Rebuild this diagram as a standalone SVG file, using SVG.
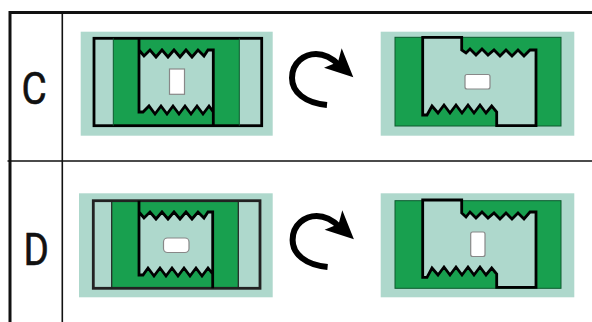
<svg xmlns="http://www.w3.org/2000/svg" width="592" height="322" viewBox="0 0 592 322">
<style>
.bg{fill:#aed8cc}
.gr{fill:#18a04f}
.lt{fill:#aed8cc}
.ol{fill:none;stroke:#000;stroke-width:2.8;stroke-linejoin:miter}
.ot{stroke:#0c5a2e;stroke-width:1}
.sl{fill:#fff;stroke:#888;stroke-width:1.2}
.ar{fill:none;stroke:#000;stroke-width:6}
.hd{fill:#000}
.tb{stroke:#111;fill:none}
.lb{font-family:Roboto,"Liberation Sans",sans-serif;font-size:45px;fill:#111;stroke:#111;stroke-width:.6}
</style>
<g id="table">
<path class="tb" stroke-width="3" d="M10 322V12.5H592"/>
<path class="tb" stroke-width="1.6" d="M62.3 12V322M7.5 161H592"/>
</g>
<g id="row-c-label"><text class="lb" transform="translate(21.5 104) scale(.86 1)">C</text></g>
<g id="row-d-label"><text class="lb" transform="translate(23.5 265) scale(.86 1)">D</text></g>
<g id="c-left">
<rect class="bg" x="80.7" y="31.7" width="192" height="104"/>
<rect class="gr" x="113.3" y="38.3" width="126" height="87.4"/>
<path class="lt" d="M139 50L144 56L150 50L156 57L162 50L168 57L174 50L180 57L186 50L192 57L198 50L204 56L208 50H213.3V112L209 106L203 114L197 106L191 114L185 106L179 114L173 106L167 114L161 106L155 114L149 106L143 112H139Z"/>
<rect class="ol" x="94" y="38.3" width="167.7" height="87.4"/>
<path d="M113.3 38.3V125.7M239.3 38.3V125.7" fill="none" stroke="#0c5a2e" stroke-width="1"/>
<path class="ol" d="M139 38.3V112H143L149 106L155 114L161 106L167 114L173 106L179 114L185 106L191 114L197 106L203 114L209 106L213.3 112M139 50L144 56L150 50L156 57L162 50L168 57L174 50L180 57L186 50L192 57L198 50L204 56L208 50H213.3V125.7"/>
<rect class="sl" x="169.5" y="69" width="15" height="25.3"/>
</g>
<g id="c-arrow">
<path class="ar" d="M327 105C305 103 292 92 292 78C292 62 305 54 316 54C325 54 332 58 339 65"/>
<path class="hd" d="M341.7 48.3L353.3 77.3L324 67.7L338 62Z"/>
</g>
<g id="c-right">
<rect class="bg" x="380.7" y="31.7" width="193.6" height="104"/>
<rect class="gr ot" x="395" y="37.3" width="166" height="88.7"/>
<path class="lt" d="M422.7 115V37.3H461.7V50L466 53L470 49L476 55L482 49L488 55L494 50L500 56L506 50L512 56L518 50L524 56L530 50H536V125.7H496.7V112L491.7 106L486 113L480 105L474 113L468 105L462 113L456 105L450 113L444 105L438 113L432 106L427 115Z"/>
<path class="ol" d="M422.7 115V37.3H461.7V50L466 53L470 49L476 55L482 49L488 55L494 50L500 56L506 50L512 56L518 50L524 56L530 50H536V125.7H496.7V112L491.7 106L486 113L480 105L474 113L468 105L462 113L456 105L450 113L444 105L438 113L432 106L427 115Z"/>
<rect class="sl" x="465" y="74.5" width="25" height="14.5" rx="2"/>
</g>
<g id="d-left">
<rect class="bg" x="79" y="193.3" width="193.7" height="104"/>
<rect class="gr" x="111.7" y="200.7" width="126.6" height="87.6"/>
<path class="lt" d="M139 212L144 218L150 212L156 219L162 212L168 219L174 212L180 219L186 212L192 219L198 212L204 218L208 212H212.7V274L208 268L202 276L196 268L190 276L184 268L178 276L172 268L166 276L160 268L154 276L148 268L143 275H139Z"/>
<rect class="ol" x="93.3" y="200.7" width="166.7" height="87.6" style="stroke:#222"/>
<path d="M111.7 200.7V288.3M238.3 200.7V288.3" stroke="#222" stroke-width="1.2" fill="none"/>
<path class="ol" d="M139 200.7V275H143L148 268L154 276L160 268L166 276L172 268L178 276L184 268L190 276L196 268L202 276L208 268L212.7 274M139 212L144 218L150 212L156 219L162 212L168 219L174 212L180 219L186 212L192 219L198 212L204 218L208 212H212.7V288.3"/>
<rect class="sl" x="163.5" y="238" width="25.5" height="14.5" rx="4"/>
</g>
<g id="d-arrow" transform="translate(.6 162)">
<path class="ar" d="M327 105C305 103 292 92 292 78C292 62 305 54 316 54C325 54 332 58 339 65"/>
<path class="hd" d="M341.7 48.3L353.3 77.3L324 67.7L338 62Z"/>
</g>
<g id="d-right">
<rect class="bg" x="380.7" y="193.3" width="193.6" height="104"/>
<rect class="gr ot" x="395" y="200.7" width="166" height="87.6"/>
<path class="lt" d="M422.7 277.3V200H461.7V213L466 217L470 212L476 218L482 212L488 218L494 213L500 219L506 213L512 219L518 213L524 219L530 212H536V287.3H496.7V274L491.7 268L486 275L480 267L474 275L468 267L462 275L456 267L450 275L444 267L438 275L432 268L427 277.3Z"/>
<path class="ol" d="M422.7 277.3V200H461.7V213L466 217L470 212L476 218L482 212L488 218L494 213L500 219L506 213L512 219L518 213L524 219L530 212H536V287.3H496.7V274L491.7 268L486 275L480 267L474 275L468 267L462 275L456 267L450 275L444 267L438 275L432 268L427 277.3Z"/>
<rect class="sl" x="470.7" y="232" width="14.3" height="24.5" rx="2"/>
</g>
</svg>
